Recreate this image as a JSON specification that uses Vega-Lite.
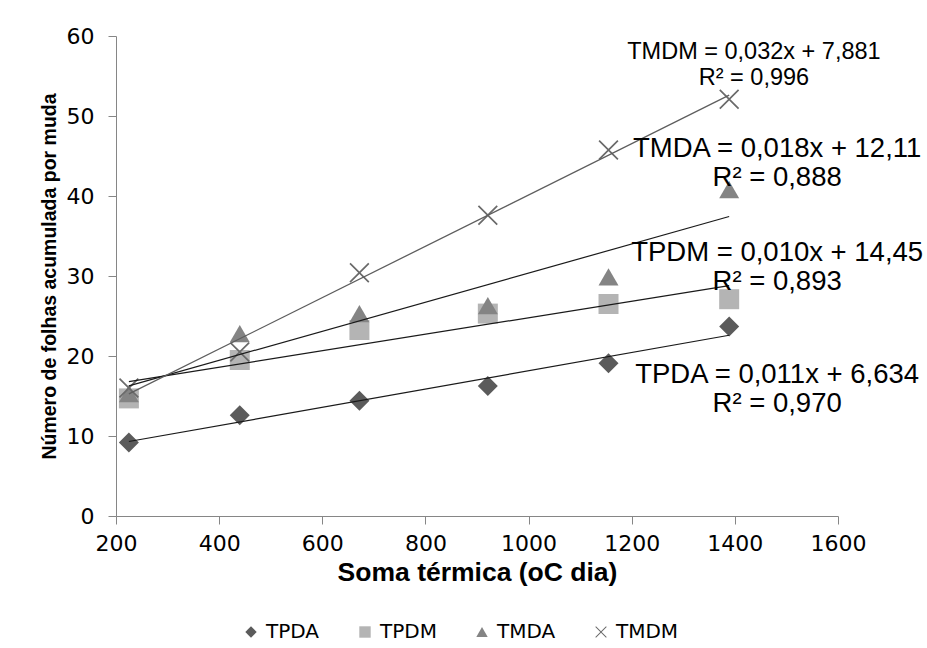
{
  "$schema": "https://vega.github.io/schema/vega-lite/v6.json",
  "width": 722,
  "height": 480,
  "autosize": {"type": "none"},
  "padding": {"left": 116, "top": 36, "right": 89, "bottom": 132},
  "background": "white",
  "config": {"view": {"stroke": null}, "font": "DejaVu Sans"},
  "datasets": {
    "pontos": [
      {"serie": "TPDA", "soma": 225, "folhas": 9.2},
      {"serie": "TPDA", "soma": 440, "folhas": 12.6},
      {"serie": "TPDA", "soma": 672, "folhas": 14.4},
      {"serie": "TPDA", "soma": 921, "folhas": 16.25},
      {"serie": "TPDA", "soma": 1155, "folhas": 19.1},
      {"serie": "TPDA", "soma": 1389, "folhas": 23.7},
      {"serie": "TPDM", "soma": 225, "folhas": 14.7},
      {"serie": "TPDM", "soma": 440, "folhas": 19.5},
      {"serie": "TPDM", "soma": 672, "folhas": 23.25},
      {"serie": "TPDM", "soma": 921, "folhas": 25.3},
      {"serie": "TPDM", "soma": 1155, "folhas": 26.5},
      {"serie": "TPDM", "soma": 1389, "folhas": 27.1},
      {"serie": "TMDA", "soma": 225, "folhas": 15.3},
      {"serie": "TMDA", "soma": 440, "folhas": 22.8},
      {"serie": "TMDA", "soma": 672, "folhas": 25.3},
      {"serie": "TMDA", "soma": 921, "folhas": 26.3},
      {"serie": "TMDA", "soma": 1155, "folhas": 29.9},
      {"serie": "TMDA", "soma": 1389, "folhas": 40.8},
      {"serie": "TMDM", "soma": 225, "folhas": 16.0},
      {"serie": "TMDM", "soma": 440, "folhas": 20.5},
      {"serie": "TMDM", "soma": 672, "folhas": 30.4},
      {"serie": "TMDM", "soma": 921, "folhas": 37.6},
      {"serie": "TMDM", "soma": 1155, "folhas": 45.75},
      {"serie": "TMDM", "soma": 1389, "folhas": 52.1}
    ],
    "rotulos_tmdm": [
      {"soma": 1437, "folhas": 58.0, "rotulo": "TMDM = 0,032x + 7,881"},
      {"soma": 1437, "folhas": 54.8, "rotulo": "R² = 0,996"}
    ],
    "rotulos": [
      {"soma": 1482, "folhas": 45.9, "rotulo": "TMDA = 0,018x + 12,11"},
      {"soma": 1482, "folhas": 42.3, "rotulo": "R² = 0,888"},
      {"soma": 1482, "folhas": 32.9, "rotulo": "TPDM = 0,010x + 14,45"},
      {"soma": 1482, "folhas": 29.2, "rotulo": "R² = 0,893"},
      {"soma": 1482, "folhas": 17.6, "rotulo": "TPDA = 0,011x + 6,634"},
      {"soma": 1482, "folhas": 14.0, "rotulo": "R² = 0,970"}
    ]
  },
  "encoding": {
    "x": {
      "field": "soma",
      "type": "quantitative",
      "scale": {"domain": [200, 1600], "nice": false, "zero": false},
      "axis": {
        "title": "Soma térmica (oC dia)",
        "values": [200, 400, 600, 800, 1000, 1200, 1400, 1600],
        "format": "d",
        "grid": false,
        "domainColor": "#868686",
        "tickColor": "#868686",
        "tickSize": 8,
        "labelFontSize": 22,
        "labelFont": "DejaVu Sans",
        "labelColor": "black",
        "labelPadding": 9,
        "labelFlush": false,
        "labelOverlap": false,
        "titleFont": "Liberation Sans",
        "titleFontSize": 26.5,
        "titleFontWeight": "bold",
        "titleColor": "black",
        "titlePadding": 5
      }
    },
    "y": {
      "field": "folhas",
      "type": "quantitative",
      "scale": {"domain": [0, 60], "nice": false},
      "axis": {
        "title": "Número de folhas acumulada por muda",
        "values": [0, 10, 20, 30, 40, 50, 60],
        "format": "d",
        "grid": false,
        "domainColor": "#868686",
        "tickColor": "#868686",
        "tickSize": 8,
        "labelFontSize": 22,
        "labelFont": "DejaVu Sans",
        "labelColor": "black",
        "labelPadding": 14,
        "labelFlush": false,
        "labelOverlap": false,
        "titleFont": "Liberation Sans",
        "titleFontSize": 19.5,
        "titleFontWeight": "bold",
        "titleColor": "black",
        "titlePadding": 7
      }
    }
  },
  "layer": [
    {
      "data": {"name": "pontos"},
      "mark": {"type": "point", "filled": true, "opacity": 1, "size": 400},
      "encoding": {
        "shape": {
          "field": "serie",
          "type": "nominal",
          "scale": {
            "domain": ["TPDA", "TPDM", "TMDA", "TMDM"],
            "range": ["diamond", "square", "triangle-up", "M-1,-0.88L-0.88,-1L0,-0.12L0.88,-1L1,-0.88L0.12,0L1,0.88L0.88,1L0,0.12L-0.88,1L-1,0.88L-0.12,0Z"]
          },
          "legend": {
            "title": null,
            "orient": "none",
            "legendX": 125,
            "legendY": 586,
            "direction": "horizontal",
            "symbolSize": 130,
            "labelFontSize": 20,
            "labelColor": "black",
            "labelFont": "DejaVu Sans",
            "columnPadding": 35,
            "labelOffset": 5,
            "symbolStrokeWidth": 0,
            "padding": 0
          }
        },
        "color": {
          "field": "serie",
          "type": "nominal",
          "scale": {
            "domain": ["TPDA", "TPDM", "TMDA", "TMDM"],
            "range": ["#5b5b5b", "#b4b4b4", "#848484", "#6a6a6a"]
          },
          "legend": {
            "title": null,
            "orient": "none",
            "legendX": 125,
            "legendY": 586,
            "direction": "horizontal",
            "symbolSize": 130,
            "labelFontSize": 20,
            "labelColor": "black",
            "labelFont": "DejaVu Sans",
            "columnPadding": 35,
            "labelOffset": 5,
            "symbolStrokeWidth": 0,
            "padding": 0
          }
        }
      }
    },
    {
      "data": {"name": "pontos"},
      "transform": [
        {"filter": "datum.serie !== 'TMDM'"},
        {"regression": "folhas", "on": "soma", "groupby": ["serie"]}
      ],
      "mark": {"type": "line", "color": "#1a1a1a", "strokeWidth": 1.2},
      "encoding": {"detail": {"field": "serie", "type": "nominal"}}
    },
    {
      "data": {"name": "pontos"},
      "transform": [
        {"filter": "datum.serie === 'TMDM'"},
        {"regression": "folhas", "on": "soma", "groupby": ["serie"]}
      ],
      "mark": {"type": "line", "color": "#5e5e5e", "strokeWidth": 1.3},
      "encoding": {"detail": {"field": "serie", "type": "nominal"}}
    },
    {
      "data": {"name": "rotulos"},
      "mark": {"type": "text", "fontSize": 27.5, "align": "center", "baseline": "middle", "color": "black", "font": "Liberation Sans"},
      "encoding": {"text": {"field": "rotulo", "type": "nominal"}}
    },
    {
      "data": {"name": "rotulos_tmdm"},
      "mark": {"type": "text", "fontSize": 23.5, "align": "center", "baseline": "middle", "color": "black", "font": "Liberation Sans"},
      "encoding": {"text": {"field": "rotulo", "type": "nominal"}}
    }
  ]
}
